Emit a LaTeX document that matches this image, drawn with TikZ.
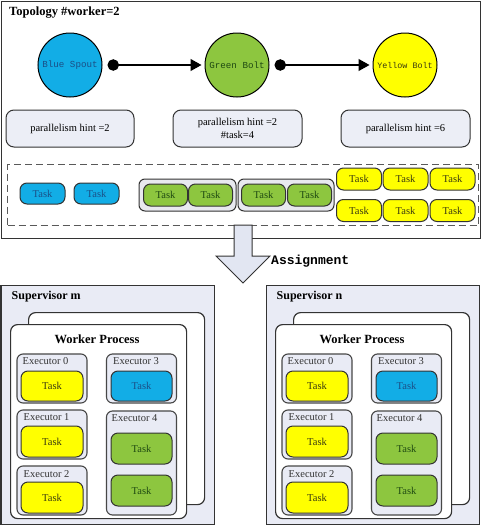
\documentclass[tikz,border=0pt]{standalone}
\usepackage{fontspec}
\setmainfont{Liberation Serif}
\setmonofont{Liberation Mono}
\usetikzlibrary{arrows.meta}
\definecolor{cblue}{HTML}{12ADE6}
\definecolor{cgreen}{HTML}{8DC63F}
\definecolor{cyellow}{HTML}{FFFF00}
\definecolor{lav}{HTML}{E9EBF5}
\definecolor{lavb}{HTML}{ECEEF6}
\definecolor{grpf}{HTML}{E8E9EF}
\definecolor{edge}{HTML}{333333}
\definecolor{tblue}{HTML}{1B4F86}
\definecolor{tgreen}{HTML}{1F4A12}
\definecolor{tyel}{HTML}{3A3A10}
\definecolor{arrf}{HTML}{E2E6F2}
\begin{document}
\begin{tikzpicture}[x=1pt,y=-1pt,
  base/.style={font=\fontsize{10.5}{13}\selectfont},
  frame/.style={draw=edge, line width=1pt, fill=white, inner sep=0pt, anchor=north west},
  ttitle/.style={font=\bfseries\fontsize{12.5}{14}\selectfont, anchor=west, inner sep=0pt},
  circ/.style={circle, draw=black, line width=1pt, minimum size=64pt, inner sep=0pt,
    font=\ttfamily\fontsize{9.2}{10}\selectfont},
  conn/.style={line width=1.1pt, draw=black, shorten <=5pt, shorten >=3pt,
    {Circle[length=11.5pt]}-{Triangle[length=11pt,width=12pt]}},
  pbox/.style={base, draw=edge, line width=1pt, fill=lavb, rounded corners=8pt,
    minimum width=128pt, minimum height=37pt, align=center, inner sep=0pt},
  dashbox/.style={draw=black!65, line width=1.4pt, dash pattern=on 7pt off 4pt,
    inner sep=0pt, anchor=north west},
  ttask/.style={base, draw=edge, line width=1pt, rounded corners=7pt, inner sep=0pt},
  btask/.style={ttask, fill=cblue, text=tblue},
  gtask/.style={ttask, fill=cgreen, text=tgreen},
  ytask/.style={ttask, fill=cyellow, text=tyel},
  grp/.style={draw=edge, line width=1pt, fill=grpf, rounded corners=6pt,
    minimum height=32pt, inner sep=0pt},
  bigarrow/.style={draw=edge, line width=1pt, fill=arrf},
  sup/.style={draw=edge, line width=1.2pt, fill=lav, inner sep=0pt, anchor=north west},
  worker/.style={draw=edge, line width=1.2pt, fill=white, rounded corners=7pt,
    inner sep=0pt, anchor=north west, minimum width=176pt},
  exec/.style={draw=edge!90, line width=1.1pt, fill=lav, rounded corners=6pt,
    inner sep=0pt, minimum width=70pt},
  elabel/.style={base, text=black!80, anchor=west, inner sep=0pt}
]
\useasboundingbox (0,0) rectangle (482,525);

% ---------- Topology frame ----------
\node[frame, minimum width=479pt, minimum height=237pt] (top) at (1,1) {};
\node[ttitle] (ttl) at (9,13) {Topology \#worker=2};

\node[circ, fill=cblue, text=tblue] (spout) at (70,65) {Blue Spout};
\node[circ, fill=cgreen, text=tgreen] (gbolt) at (237,65) {Green Bolt};
\node[circ, fill=cyellow, text=tyel, font=\ttfamily\fontsize{8.4}{9}\selectfont] (ybolt) at (405,65) {Yellow Bolt};
\draw[conn] (spout) -- (gbolt);
\draw[conn] (gbolt) -- (ybolt);

\node[pbox] (p1) at (70,128.5) {parallelism hint =2};
\node[pbox, minimum width=129pt] (p2) at (237.5,128.5) {parallelism hint =2\\\#task=4};
\node[pbox, minimum width=129pt] (p3) at (405.5,128.5) {parallelism hint =6};

\node[dashbox, minimum width=471pt, minimum height=61pt] (tasks) at (7,164) {};

\node[btask, minimum width=45pt, minimum height=21pt] (bt1) at (42.5,193.5) {Task};
\node[btask, minimum width=45pt, minimum height=21pt] (bt2) at (96.5,193.5) {Task};

\node[grp, minimum width=97pt] (g1) at (187.5,195) {};
\node[grp, minimum width=96pt] (g2) at (286,195) {};
\node[gtask, minimum width=44pt, minimum height=22pt] (gt1) at (165.5,195) {Task};
\node[gtask, minimum width=44pt, minimum height=22pt] (gt2) at (210.5,195) {Task};
\node[gtask, minimum width=44pt, minimum height=22pt] (gt3) at (263.5,195) {Task};
\node[gtask, minimum width=44pt, minimum height=22pt] (gt4) at (309.5,195) {Task};

\foreach \cx/\i in {359/1, 405.5/2, 452.5/3} {
  \node[ytask, minimum width=45pt, minimum height=22pt] (ya\i) at (\cx,179) {Task};
  \node[ytask, minimum width=45pt, minimum height=22pt] (yb\i) at (\cx,210.5) {Task};
}

% ---------- Assignment arrow ----------
\draw[bigarrow] (234,225) -- (252,225) -- (252,256) -- (270,256) -- (243,283)
  -- (216,256) -- (234,256) -- cycle;
\node[anchor=west, inner sep=0pt, font=\ttfamily\bfseries\fontsize{13}{15}\selectfont] (asg) at (271,261) {Assignment};

% ---------- Supervisors ----------
\foreach \dx/\s in {0/m, 265/n} {
\begin{scope}[shift={(\dx,0)}]
  \node[sup, minimum width=213pt, minimum height=239pt] (sup\s) at (0.5,285) {};
  \node[ttitle, font=\bfseries\fontsize{12}{14}\selectfont] (supt\s) at (11.5,297) {Supervisor \s};
  \node[worker, minimum height=192pt] (wb\s) at (28,312) {};
  \node[worker, minimum height=194pt] (wf\s) at (10,324) {};
  \node[inner sep=0pt, font=\bfseries\fontsize{12.5}{14}\selectfont] (wt\s) at (97,339) {Worker Process};

  \node[exec, minimum height=49pt] (ea\s) at (52,378.5) {};
  \node[exec, minimum height=49pt] (eb\s) at (52,434.5) {};
  \node[exec, minimum height=49pt] (ec\s) at (52,490.5) {};
  \node[exec, minimum height=49pt] (ed\s) at (141.5,378.5) {};
  \node[exec, minimum height=104pt] (ee\s) at (141.5,463) {};

  \node[elabel] (la\s) at (22.5,361.5) {Executor 0};
  \node[elabel] (lb\s) at (23.5,417.5) {Executor 1};
  \node[elabel] (lc\s) at (23.5,474) {Executor 2};
  \node[elabel] (ld\s) at (113,361.5) {Executor 3};
  \node[elabel] (le\s) at (111.5,418) {Executor 4};

  \node[ytask, minimum width=62pt, minimum height=30pt] (ta\s) at (52,386) {Task};
  \node[ytask, minimum width=62pt, minimum height=31pt] (tb\s) at (52,441.5) {Task};
  \node[ytask, minimum width=62pt, minimum height=31pt] (tc\s) at (52,497.5) {Task};
  \node[btask, minimum width=61pt, minimum height=30pt] (td\s) at (141.5,386) {Task};
  \node[gtask, minimum width=61pt, minimum height=31pt] (te\s) at (141.5,448.5) {Task};
  \node[gtask, minimum width=61pt, minimum height=31pt] (tf\s) at (141.5,490.5) {Task};
\end{scope}
}
\end{tikzpicture}
\end{document}
